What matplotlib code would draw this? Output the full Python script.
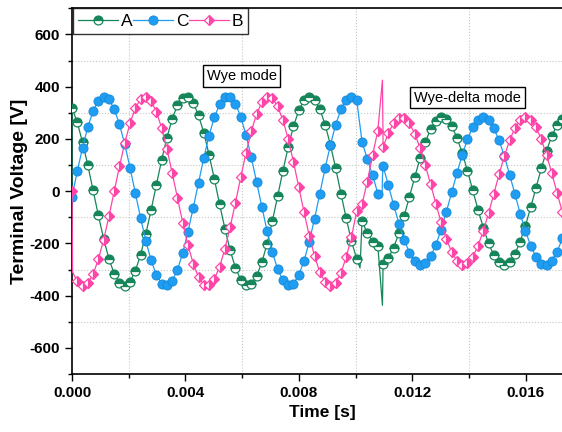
import numpy as np
import matplotlib
matplotlib.use("Agg")
import matplotlib.pyplot as plt
from matplotlib.lines import Line2D
from matplotlib.ticker import MultipleLocator

plt.rcParams["font.family"] = ["Liberation Sans", "DejaVu Sans"]
plt.rcParams["axes.unicode_minus"] = False

# --- sampled terminal voltages (V), one value per marker ---
TIME_STEP = 0.000186  # s between samples

volt_a = [319, 263, 187, 99, 3, -93, -182, -259, -316, -352,
          -362, -346, -306, -244, -164, -72, 24, 119, 205, 277,
          329, 357, 360, 337, 290, 223, 139, 46, -51, -144,
          -227, -294, -339, -361, -356, -326, -273, -201, -114, -19,
          78, 169, 248, 309, 348, 362, 350, 314, 255, 178,
          88, -9, -104, -192, -260, -115, -160, -193, -210, -278,
          -256, -216, -161, -94, -21, 54, 125, 188, 237, 269,
          282, 275, 249, 205, 146, 78, 3, -71, -140, -200,
          -245, -273, -282, -271, -240, -193, -132, -61, 13, 87,
          155, 212, 253, 277]

volt_c = [-21, 76, 167, 246, 307, 347, 362, 351, 315, 256,
          180, 90, -6, -102, -190, -265, -321, -354, -361, -343,
          -301, -236, -155, -63, 33, 128, 213, 283, 333, 359,
          359, 334, 285, 215, 130, 36, -60, -153, -234, -299,
          -342, -361, -354, -322, -267, -193, -105, -9, 87, 177,
          254, 313, 350, 362, 348, 189, 123, 61, -9, 96,
          22, -53, -124, -186, -236, -268, -282, -275, -250, -206,
          -148, -79, -5, 69, 139, 199, 244, 273, 282, 271,
          241, 194, 133, 63, -12, -86, -153, -210, -252, -277,
          -281, -266, -232, -181]

volt_b = [0, -345, -362, -353, -318, -261, -186, -97, -1, 95,
          184, 260, 318, 352, 362, 345, 304, 242, 162, 70,
          -26, -121, -207, -278, -330, -358, -360, -336, -289, -221,
          -137, -44, 53, 146, 229, 295, 340, 361, 356, 325,
          272, 199, 112, 16, -80, -171, -249, -310, -348, -362,
          -350, -313, -253, -176, -75, -50, 36, 138, 232, 169,
          223, 260, 280, 279, 259, 220, 166, 100, 27, -48,
          -119, -183, -233, -266, -281, -276, -252, -209, -152, -84,
          -10, 65, 135, 195, 242, 272, 282, 272, 244, 198,
          138, 68, -7, -81]

# switching transients seen only in the line (no marker)
spike_t_a = [0.0, 0.01016, 0.01095]
spike_v_a = [0, -294, -437]
spike_t_c = [0.01094, 0.01095]
spike_v_c = [-12, 55]
spike_t_b = [0.00002, 0.01095]
spike_v_b = [-310, 425]

COL_A = "#16855a"
COL_C = "#1e9df2"
COL_B = "#ff45a8"


def line_data(values, spike_t, spike_v):
    t = np.concatenate([spike_t, np.arange(len(values)) * TIME_STEP])
    v = np.concatenate([spike_v, values])
    order = np.argsort(t, kind="stable")
    return t[order], v[order]


fig = plt.figure(figsize=(5.62, 4.32), dpi=100)
ax = fig.add_axes([72 / 562, 1 - 374 / 432, 500 / 562, 365.7 / 432])

time = np.arange(len(volt_a)) * TIME_STEP

styles = [
    ("A", volt_a, spike_t_a, spike_v_a, COL_A,
     dict(marker="o", markersize=6.4, fillstyle="top", markerfacecolor=COL_A,
          markerfacecoloralt="white", markeredgecolor=COL_A, markeredgewidth=0.9)),
    ("C", volt_c, spike_t_c, spike_v_c, COL_C,
     dict(marker="o", markersize=6.6, markerfacecolor=COL_C,
          markeredgecolor="#1688d8", markeredgewidth=0.6)),
    ("B", volt_b, spike_t_b, spike_v_b, COL_B,
     dict(marker="D", markersize=5.6, fillstyle="right", markerfacecolor=COL_B,
          markerfacecoloralt="white", markeredgecolor=COL_B, markeredgewidth=0.9)),
]

handles = []
for name, vals, st, sv, col, mk in styles:
    lt, lv = line_data(vals, st, sv)
    ax.plot(lt, lv, color=col, linewidth=0.9, zorder=3)
    ax.plot(time, vals, linestyle="none", zorder=3, **mk)
    handles.append(Line2D([], [], color=col, linewidth=0.9, label=name, **mk))

ax.set_xlim(0, 500 / 28350)
ax.set_ylim(-700, 700)

ax.xaxis.set_major_locator(MultipleLocator(0.004))
ax.xaxis.set_minor_locator(MultipleLocator(0.002))
ax.yaxis.set_major_locator(MultipleLocator(200))
ax.yaxis.set_minor_locator(MultipleLocator(100))
ax.xaxis.set_major_formatter(plt.FuncFormatter(lambda v, p: f"{v:.3f}"))

ax.grid(True, which="minor", linestyle=":", color="#c4c4c4", linewidth=0.8)
ax.grid(False, which="major")
ax.set_axisbelow(True)

ax.tick_params(which="both", direction="out", width=1.0)
ax.tick_params(which="major", length=5, labelsize=11)
ax.tick_params(which="minor", length=3)
ax.tick_params(top=False, right=False)
for lbl in ax.get_xticklabels() + ax.get_yticklabels():
    lbl.set_fontweight("bold")

for side in ["left", "bottom", "top"]:
    ax.spines[side].set_linewidth(1.2)
ax.spines["right"].set_visible(False)

ax.set_xlabel("Time [s]", fontsize=12.5, fontweight="bold", labelpad=4)
ax.set_ylabel("Terminal Voltage [V]", fontsize=14, fontweight="bold", labelpad=1)

box = dict(boxstyle="square,pad=0.25", facecolor="white", edgecolor="black", linewidth=1.0)
ax.text(0.005986, 441, "Wye mode", fontsize=10.5, ha="center", va="center", bbox=box, zorder=5)
ax.text(0.01395, 358, "Wye-delta mode", fontsize=10.5, ha="center", va="center", bbox=box, zorder=5)

leg = ax.legend(handles=handles, loc="upper left", ncol=3, fontsize=12.5,
                bbox_to_anchor=(0.002, 1.0), borderaxespad=0.0, frameon=True,
                fancybox=False, edgecolor="black", numpoints=1, handlelength=2.3,
                handletextpad=0.15, columnspacing=0.05, borderpad=0.3)
leg.get_frame().set_linewidth(1.0)
leg.set_zorder(6)

fig.savefig("out.png", dpi=100)
